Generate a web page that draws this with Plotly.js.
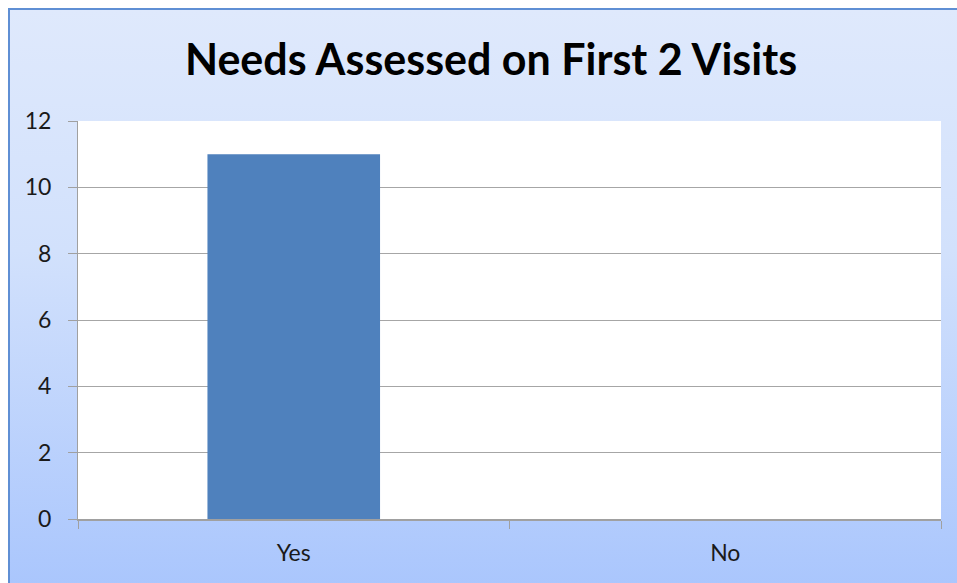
<!DOCTYPE html>
<html>
<head>
<meta charset="utf-8">
<script src="https://cdn.plot.ly/plotly-3.0.1.min.js"></script>
<style>
html, body { margin: 0; padding: 0; background: #ffffff; overflow: hidden; }
#bg {
  position: absolute; left: 8px; top: 8px; width: 980px; height: 600px;
  border-top: 2px solid #5f8fd4; border-left: 2px solid #5f8fd4;
  background: linear-gradient(to bottom, #dfe9fc 0%, #d2e1fc 40%, #a7c4fd 100%);
}
#chart { position: absolute; left: 0; top: 0; width: 957px; height: 583px; }
</style>
</head>
<body>
<div id="bg"></div>
<div id="chart"></div>
<script>
const categories = ["Yes", "No"];
const counts = [11, 0];
const yTicks = [0, 2, 4, 6, 8, 10, 12];
const chartTitle = "Needs Assessed on First 2 Visits";

const trace = {
  type: "bar",
  x: categories,
  y: counts,
  width: 0.4,
  marker: { color: "#4f81bd", line: { width: 0 } },
  hoverinfo: "none"
};

const layout = {
  width: 957,
  height: 583,
  margin: { l: 78, r: 16, t: 121, b: 64, pad: 0 },
  paper_bgcolor: "rgba(0,0,0,0)",
  plot_bgcolor: "#ffffff",
  showlegend: false,
  font: { family: "Lato, 'Open Sans', sans-serif", color: "#1a1a1a", size: 23 },
  title: {
    text: "<b>" + chartTitle + "</b>",
    font: { family: "Lato, 'Open Sans', sans-serif", size: 43, color: "#000000" },
    x: 491 / 957, xref: "container", xanchor: "center",
    y: 1 - 60 / 583, yref: "container", yanchor: "middle"
  },
  xaxis: {
    type: "category",
    tickson: "boundaries",
    ticks: "outside",
    ticklen: 8,
    tickcolor: "#a0a0a0",
    tickwidth: 1,
    ticklabelstandoff: 12,
    showline: true,
    linecolor: "#a0a0a0",
    linewidth: 2,
    showgrid: false,
    zeroline: false,
    tickfont: { size: 23, color: "#1a1a1a" },
    fixedrange: true
  },
  yaxis: {
    range: [0, 12],
    tickvals: yTicks,
    ticks: "outside",
    ticklen: 9,
    tickcolor: "#a0a0a0",
    ticklabelstandoff: 12,
    showline: true,
    linecolor: "#a0a0a0",
    linewidth: 1,
    showgrid: true,
    gridcolor: "#a6a6a6",
    gridwidth: 1,
    zeroline: false,
    tickfont: { size: 23, color: "#1a1a1a" },
    fixedrange: true
  }
};

Plotly.newPlot("chart", [trace], layout, { displayModeBar: false, staticPlot: true });
</script>
</body>
</html>
